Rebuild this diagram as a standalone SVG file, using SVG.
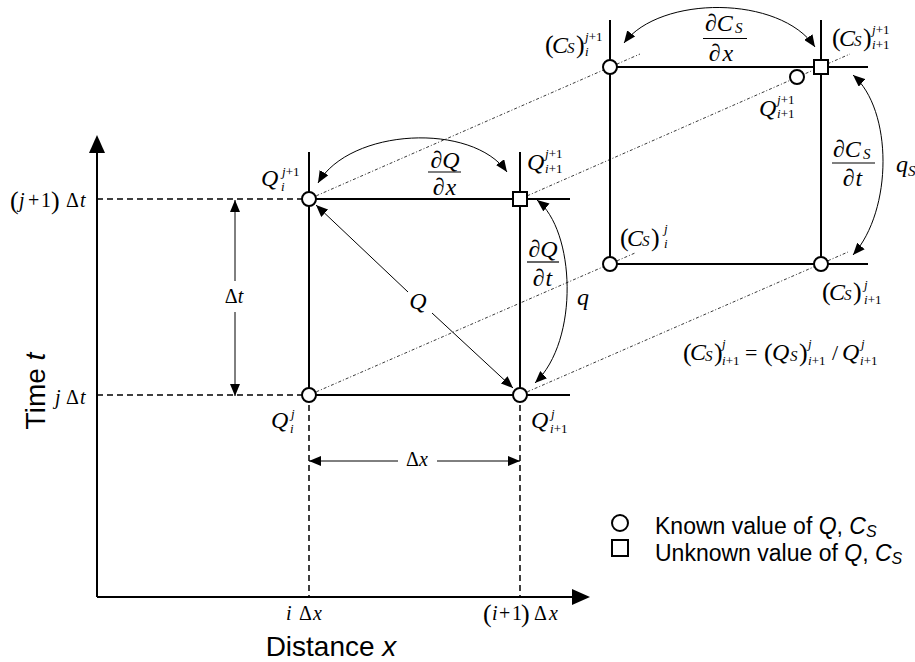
<svg xmlns="http://www.w3.org/2000/svg" width="915" height="662" viewBox="0 0 915 662">
<style>
.ln{stroke:#000;stroke-width:2;fill:none}
.ax{stroke:#000;stroke-width:2;fill:none}
.dash{stroke:#000;stroke-width:1.5;stroke-dasharray:6 4;fill:none}
.dd{stroke:#222;stroke-width:0.9;stroke-dasharray:3 2 1 2;fill:none}
.arr{stroke:#000;stroke-width:1;fill:none}
.pt{fill:#fff;stroke:#000;stroke-width:2}
.bar{stroke:#000;stroke-width:1.2}
text{font-family:"Liberation Serif","Times New Roman",serif;fill:#000}
.mi{font-style:italic;font-size:24px}
.big{font-style:italic;font-size:24px}
.mu{font-size:22px}
.par{font-size:26px}
.ms{font-size:13px}
.it{font-style:italic}
.sm{font-style:italic;font-size:15px}
.tk{font-size:20px}
.sans{font-family:"Liberation Sans",Arial,sans-serif}
</style>
<defs>
<marker id="ah" viewBox="0 0 12 10" refX="12" refY="5" markerWidth="12" markerHeight="10" markerUnits="userSpaceOnUse" orient="auto-start-reverse"><path d="M0,0 L12,5 L0,10 z" fill="#000"/></marker>
</defs>

<g id="axes">
<line class="ax" x1="97" y1="597" x2="97" y2="150"/>
<polygon points="97,135 89,153 105,153" fill="#000"/>
<line class="ax" x1="97" y1="597" x2="575" y2="597"/>
<polygon points="590,597 572,589 572,605" fill="#000"/>
<text class="sans" font-size="28" transform="translate(45,391) rotate(-90)" text-anchor="middle">Time <tspan font-style="italic">t</tspan></text>
<text class="sans" font-size="28" x="331" y="656" text-anchor="middle">Distance <tspan font-style="italic">x</tspan></text>
</g>

<g id="ticks">
<text class="par" x="10" y="209">(</text><text class="tk it" x="19" y="207">j</text><text class="tk" x="28" y="207">+</text><text class="tk" x="41" y="207">1</text><text class="par" x="51" y="209">)</text><text class="tk" x="66" y="207">Δ</text><text class="tk it" x="80" y="207">t</text>
<text class="tk it" x="55" y="404">j</text><text class="tk" x="66" y="404">Δ</text><text class="tk it" x="80" y="404">t</text>
<text class="tk it" x="286" y="620">i</text><text class="tk" x="299" y="620">Δ</text><text class="tk it" x="313" y="620">x</text>
<text class="par" x="483" y="622">(</text><text class="tk it" x="492" y="620">i</text><text class="tk" x="499" y="620">+</text><text class="tk" x="512" y="620">1</text><text class="par" x="521" y="622">)</text><text class="tk" x="534" y="620">Δ</text><text class="tk it" x="549" y="620">x</text>
</g>

<g id="connectors">
<line class="dash" x1="97" y1="199" x2="309" y2="199"/>
<line class="dash" x1="97" y1="395" x2="309" y2="395"/>
<line class="dash" x1="309" y1="395" x2="309" y2="597"/>
<line class="dash" x1="520" y1="395" x2="520" y2="597"/>
<line class="dd" x1="309" y1="199" x2="640" y2="54"/>
<line class="dd" x1="520" y1="199" x2="850" y2="54"/>
<line class="dd" x1="309" y1="395" x2="635" y2="253"/>
<line class="dd" x1="520" y1="395" x2="848" y2="252"/>
<path class="arr" d="M318,183 C350,128 472,122 507,172" marker-start="url(#ah)" marker-end="url(#ah)"/>
<path class="arr" d="M537,200 C575,230 580,340 535,383" marker-start="url(#ah)" marker-end="url(#ah)"/>
<line class="arr" x1="408" y1="292" x2="316" y2="205" marker-end="url(#ah)"/>
<line class="arr" x1="432" y1="313" x2="513" y2="388" marker-end="url(#ah)"/>
<line class="arr" x1="235" y1="281" x2="235" y2="200" marker-end="url(#ah)"/>
<line class="arr" x1="235" y1="312" x2="235" y2="396" marker-end="url(#ah)"/>
<line class="arr" x1="398" y1="461" x2="309" y2="461" marker-end="url(#ah)"/>
<line class="arr" x1="437" y1="461" x2="520" y2="461" marker-end="url(#ah)"/>
<path class="arr" d="M624,43 C660,-5 780,-5 815,47" marker-start="url(#ah)" marker-end="url(#ah)"/>
<path class="arr" d="M853,75 C893,110 893,210 853,255" marker-start="url(#ah)" marker-end="url(#ah)"/>
</g>

<g id="grid-left">
<line class="ln" x1="309" y1="152" x2="309" y2="396"/>
<line class="ln" x1="520" y1="152" x2="520" y2="396"/>
<line class="ln" x1="309" y1="199" x2="570" y2="199"/>
<line class="ln" x1="309" y1="395" x2="570" y2="395"/>
</g>
<g id="grid-right">
<line class="ln" x1="610" y1="20" x2="610" y2="264"/>
<line class="ln" x1="821" y1="20" x2="821" y2="264"/>
<line class="ln" x1="610" y1="67" x2="868" y2="67"/>
<line class="ln" x1="610" y1="264" x2="868" y2="264"/>
</g>

<g id="node-Qi-j1"><circle class="pt" cx="309" cy="199" r="7"/>
<text class="mi" x="261" y="186">Q</text><text class="ms" x="282" y="176"><tspan class="it">j</tspan>+1</text><text class="ms it" x="281" y="191">i</text></g>
<g id="node-Qi1-j1"><rect class="pt" x="513" y="192" width="14" height="14"/>
<text class="mi" x="527" y="170">Q</text><text class="ms" x="545" y="158"><tspan class="it">j</tspan>+1</text><text class="ms" x="545" y="173"><tspan class="it">i</tspan>+1</text></g>
<g id="node-Qi-j"><circle class="pt" cx="309" cy="395" r="7"/>
<text class="mi" x="271" y="428">Q</text><text class="ms it" x="291" y="418">j</text><text class="ms it" x="290" y="433">i</text></g>
<g id="node-Qi1-j"><circle class="pt" cx="520" cy="395" r="7"/>
<text class="mi" x="531" y="428">Q</text><text class="ms it" x="551" y="418">j</text><text class="ms" x="550" y="433"><tspan class="it">i</tspan>+1</text></g>

<g id="node-Csi-j1"><circle class="pt" cx="610" cy="67" r="7"/>
<text class="par" x="545" y="53">(</text><text class="big" x="552" y="53">C</text><text class="sm" x="567" y="53">S</text><text class="par" x="576" y="53">)</text><text class="ms" x="585" y="41"><tspan class="it">j</tspan>+1</text><text class="ms it" x="585" y="56">i</text></g>
<g id="node-Csi1-j1"><rect class="pt" x="814" y="60" width="14" height="14"/>
<text class="par" x="832" y="46">(</text><text class="big" x="839" y="46">C</text><text class="sm" x="854" y="46">S</text><text class="par" x="863" y="46">)</text><text class="ms" x="872" y="34"><tspan class="it">j</tspan>+1</text><text class="ms" x="872" y="49"><tspan class="it">i</tspan>+1</text></g>
<g id="node-Qi1-j1-right"><circle class="pt" cx="797" cy="77" r="7"/>
<text class="mi" x="759" y="116">Q</text><text class="ms" x="777" y="104"><tspan class="it">j</tspan>+1</text><text class="ms" x="777" y="118"><tspan class="it">i</tspan>+1</text></g>
<g id="node-Csi-j"><circle class="pt" cx="610" cy="264" r="7"/>
<text class="par" x="620" y="246">(</text><text class="big" x="627" y="246">C</text><text class="sm" x="642" y="246">S</text><text class="par" x="651" y="246">)</text><text class="ms it" x="664" y="233">j</text><text class="ms it" x="664" y="248">i</text></g>
<g id="node-Csi1-j"><circle class="pt" cx="821" cy="264" r="7"/>
<text class="par" x="822" y="300">(</text><text class="big" x="829" y="300">C</text><text class="sm" x="844" y="300">S</text><text class="par" x="853" y="300">)</text><text class="ms it" x="864" y="289">j</text><text class="ms" x="864" y="304"><tspan class="it">i</tspan>+1</text></g>

<g id="labels">
<text class="mi" x="445" y="168" text-anchor="middle">∂Q</text><line class="bar" x1="428" y1="172" x2="461" y2="172"/><text class="mi" x="445" y="195" text-anchor="middle" letter-spacing="1">∂x</text>
<text class="mi" x="543" y="257" text-anchor="middle">∂Q</text><line class="bar" x1="527" y1="262" x2="559" y2="262"/><text class="mi" x="543" y="286" text-anchor="middle" letter-spacing="1">∂t</text>
<text class="big" x="577" y="305">q</text>
<text class="big" x="418" y="309" text-anchor="middle">Q</text>
<text class="tk" x="234" y="303" text-anchor="middle">Δ<tspan class="it">t</tspan></text>
<text class="tk" x="417" y="466" text-anchor="middle">Δ<tspan class="it">x</tspan></text>
<text class="mi" x="705" y="31">∂C</text><text class="sm" x="735" y="33">S</text><line class="bar" x1="703" y1="38.5" x2="747" y2="38.5"/><text class="mi" x="722" y="61" text-anchor="middle" letter-spacing="2">∂x</text>
<text class="mi" x="833" y="157">∂C</text><text class="sm" x="863" y="159">S</text><line class="bar" x1="832" y1="163" x2="875" y2="163"/><text class="mi" x="853" y="186" text-anchor="middle" letter-spacing="1">∂t</text>
<text class="big" x="896" y="172">q</text><text class="sm" x="908" y="176">S</text>
</g>

<g id="formula">
<text class="par" x="683" y="361">(</text><text class="big" x="690" y="360">C</text><text class="sm" x="705" y="361">S</text><text class="par" x="714" y="361">)</text><text class="ms it" x="722" y="348">j</text><text class="ms" x="722" y="365"><tspan class="it">i</tspan>+1</text>
<text class="mu" x="745" y="360">=</text>
<text class="par" x="764" y="361">(</text><text class="big" x="772" y="360">Q</text><text class="sm" x="790" y="361">S</text><text class="par" x="799" y="361">)</text><text class="ms it" x="808" y="348">j</text><text class="ms" x="808" y="365"><tspan class="it">i</tspan>+1</text>
<text class="mu" x="832" y="360">/</text>
<text class="big" x="842" y="360">Q</text><text class="ms it" x="861" y="348">j</text><text class="ms" x="860" y="365"><tspan class="it">i</tspan>+1</text>
</g>

<g id="legend">
<circle cx="620" cy="523" r="8" fill="#fff" stroke="#000" stroke-width="2"/>
<rect x="612" y="540" width="16" height="16" fill="#fff" stroke="#000" stroke-width="2"/>
<text class="sans" font-size="23" x="655" y="534">Known value of <tspan font-style="italic">Q</tspan>, <tspan font-style="italic">C</tspan><tspan font-style="italic" font-size="16" dy="3">S</tspan></text>
<text class="sans" font-size="23" x="655" y="561">Unknown value of <tspan font-style="italic">Q</tspan>, <tspan font-style="italic">C</tspan><tspan font-style="italic" font-size="16" dy="3">S</tspan></text>
</g>
</svg>
